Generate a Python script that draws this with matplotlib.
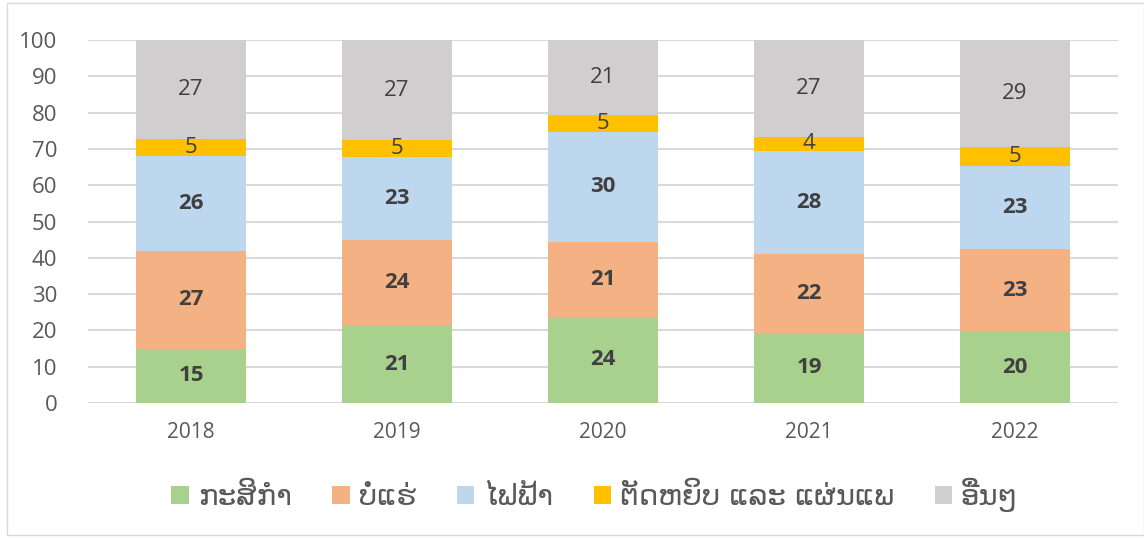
import numpy as np
import matplotlib
matplotlib.use("Agg")
from matplotlib import pyplot as plt
from matplotlib.patches import Rectangle

years = ["2018", "2019", "2020", "2021", "2022"]
series_names = ["ກະສິກຳ", "ບໍ່ແຮ່", "ໄຟຟ້າ", "ຕັດຫຍິບ ແລະ ແຜ່ນແພ", "ອື່ນໆ"]
agriculture = [14.9, 21.4, 23.7, 19.3, 19.8]
mining = [27.0, 23.5, 20.7, 21.7, 22.6]
electricity = [26.1, 22.9, 30.3, 28.4, 22.9]
garment = [4.6, 4.7, 4.6, 3.9, 5.2]
other = [27.4, 27.4, 20.7, 26.7, 29.4]

colors = ["#A9D18E", "#F4B183", "#BDD7EE", "#FFC000", "#D0CECE"]
bold_labels = [True, True, True, False, False]

plt.rcParams['font.family'] = ['Open Sans', 'DejaVu Sans']

fig = plt.figure(figsize=(11.44, 5.38), dpi=100)
ax = fig.add_axes([88 / 1144, 1 - 403 / 538, 1030 / 1144, 363 / 538])

x = np.arange(len(years))
bottom = np.zeros(len(years))
for name, vals, col, bold in zip(series_names,
                                 [agriculture, mining, electricity, garment, other],
                                 colors, bold_labels):
    vals = np.array(vals)
    ax.bar(x, vals, width=0.535, bottom=bottom, color=col, label=name, zorder=2)
    for xi, b, v in zip(x, bottom, vals):
        ax.text(xi, b + v / 2, f"{v:.0f}", ha="center", va="center",
                fontsize=16, color="#404040",
                fontweight="bold" if bold else "normal", zorder=3)
    bottom += vals

ax.set_xlim(-0.5, 4.5)
ax.set_ylim(0, 100)
ax.set_yticks(range(0, 101, 10))
ax.set_xticks(x)
ax.set_xticklabels(years)
ax.yaxis.grid(True, color="#D9D9D9", linewidth=1.5, zorder=0)
ax.set_axisbelow(True)
for s in ax.spines.values():
    s.set_visible(False)
ax.tick_params(axis="both", length=0, colors="#595959")
ax.tick_params(axis="y", labelsize=16, pad=22)
ax.tick_params(axis="x", labelsize=15, pad=14)

leg = fig.legend(loc="center", bbox_to_anchor=(0.52, 1 - 495 / 538), ncol=5,
                 frameon=False, prop={"family": "DejaVu Sans", "size": 21},
                 handlelength=0.6, handleheight=0.6, handletextpad=0.3,
                 columnspacing=1.4, labelcolor="#595959")

# chart area border
fig.patches.append(Rectangle((7 / 1144, 3 / 538), 1 - 7 / 1144, 1 - 6 / 538,
                             transform=fig.transFigure, fill=False,
                             edgecolor="#D9D9D9", linewidth=1))

fig.savefig("out.png", dpi=100)
